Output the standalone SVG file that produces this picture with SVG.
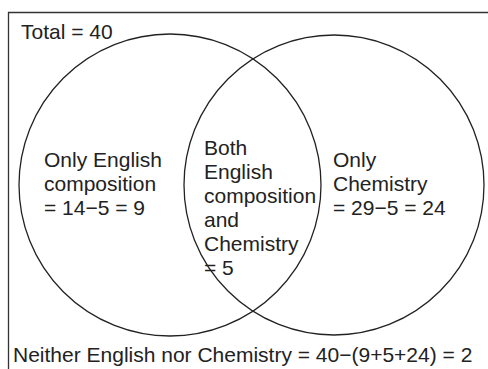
<svg xmlns="http://www.w3.org/2000/svg" width="488" height="369" viewBox="0 0 488 369">
<style>
text{font-family:"Liberation Sans",Arial,sans-serif;font-size:21px;fill:#222}
.c{fill:none;stroke:#222;stroke-width:1.3}
.b{fill:none;stroke:#333;stroke-width:1.3}
</style>
<rect width="488" height="369" fill="#fff"/>
<g id="frame"><path class="b" d="M8.5,369 V12.5 H488"/></g>
<g id="total"><text x="21" y="39">Total = 40</text></g>
<g id="english"><circle class="c" cx="170" cy="185" r="151"/></g>
<g id="chemistry"><circle class="c" cx="334" cy="185" r="150"/></g>
<g id="only-english"><text x="44" y="167">Only English</text><text x="44" y="191">composition</text><text x="44" y="215">= 14−5 = 9</text></g>
<g id="only-chemistry"><text x="333" y="167">Only</text><text x="333" y="191">Chemistry</text><text x="333" y="215">= 29−5 = 24</text></g>
<g id="both"><text x="204" y="155">Both</text><text x="204" y="179">English</text><text x="204" y="203">composition</text><text x="204" y="227">and</text><text x="204" y="251">Chemistry</text><text x="204" y="275">= 5</text></g>
<g id="neither"><text x="13" y="362">Neither English nor Chemistry = 40−(9+5+24) = 2</text></g>
</svg>
